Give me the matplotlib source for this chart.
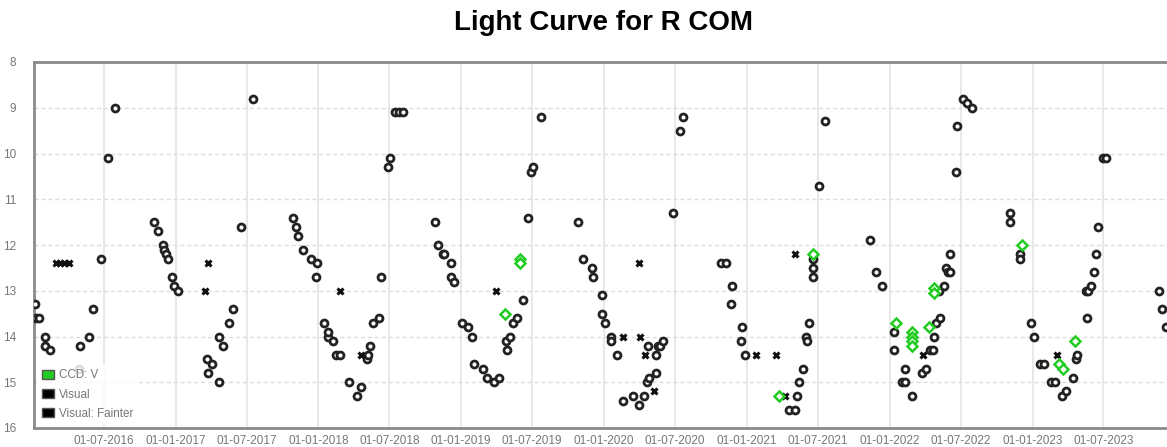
import matplotlib
matplotlib.use("Agg")
import matplotlib.pyplot as plt
import matplotlib.dates as mdates
from matplotlib.patches import Patch
import pandas as pd

vis_t = [2016.015, 2016.024, 2016.047, 2016.085, 2016.085, 2016.122, 2016.325, 2016.332,
         2016.397, 2016.421, 2016.477, 2016.526, 2016.577, 2016.848, 2016.876, 2016.908,
         2016.920, 2016.934, 2016.943, 2016.974, 2016.990, 2017.013, 2017.219, 2017.223,
         2017.254, 2017.305, 2017.305, 2017.331, 2017.375, 2017.401, 2017.459, 2017.538,
         2017.821, 2017.844, 2017.860, 2017.895, 2017.947, 2017.984, 2017.993, 2018.042,
         2018.066, 2018.070, 2018.101, 2018.124, 2018.152, 2018.217, 2018.269, 2018.299,
         2018.339, 2018.350, 2018.362, 2018.381, 2018.423, 2018.439, 2018.488, 2018.502,
         2018.537, 2018.565, 2018.593, 2018.819, 2018.838, 2018.871, 2018.882, 2018.927,
         2018.927, 2018.952, 2019.008, 2019.046, 2019.074, 2019.092, 2019.155, 2019.179,
         2019.232, 2019.265, 2019.314, 2019.319, 2019.342, 2019.365, 2019.393, 2019.431,
         2019.470, 2019.489, 2019.505, 2019.557, 2019.820, 2019.855, 2019.914, 2019.925,
         2019.984, 2019.984, 2020.007, 2020.049, 2020.049, 2020.089, 2020.135, 2020.205,
         2020.247, 2020.282, 2020.303, 2020.310, 2020.317, 2020.364, 2020.364, 2020.380,
         2020.392, 2020.415, 2020.481, 2020.532, 2020.555, 2020.819, 2020.854, 2020.889,
         2020.894, 2020.957, 2020.964, 2020.987, 2021.290, 2021.337, 2021.349, 2021.360,
         2021.388, 2021.412, 2021.419, 2021.430, 2021.458, 2021.458, 2021.458, 2021.500,
         2021.547, 2021.860, 2021.904, 2021.946, 2022.030, 2022.030, 2022.084, 2022.107,
         2022.107, 2022.154, 2022.228, 2022.254, 2022.282, 2022.305, 2022.312, 2022.322,
         2022.347, 2022.352, 2022.382, 2022.392, 2022.406, 2022.422, 2022.422, 2022.462,
         2022.473, 2022.511, 2022.543, 2022.576, 2022.842, 2022.842, 2022.912, 2022.912,
         2022.987, 2023.012, 2023.052, 2023.080, 2023.127, 2023.157, 2023.208, 2023.234,
         2023.285, 2023.304, 2023.309, 2023.374, 2023.379, 2023.390, 2023.407, 2023.430,
         2023.444, 2023.456, 2023.495, 2023.514, 2023.885, 2023.908, 2023.932]
vis_mag = [13.3, 13.6, 13.6, 14.0, 14.2, 14.3, 14.7, 14.2,
           14.0, 13.4, 12.3, 10.1, 9.0, 11.5, 11.7, 12.0,
           12.1, 12.2, 12.3, 12.7, 12.9, 13.0, 14.5, 14.8,
           14.6, 14.0, 15.0, 14.2, 13.7, 13.4, 11.6, 8.8,
           11.4, 11.6, 11.8, 12.1, 12.3, 12.7, 12.4, 13.7,
           14.0, 13.9, 14.1, 14.4, 14.4, 15.0, 15.3, 15.1,
           14.5, 14.4, 14.2, 13.7, 13.6, 12.7, 10.3, 10.1,
           9.1, 9.1, 9.1, 11.5, 12.0, 12.2, 12.2, 12.4,
           12.7, 12.8, 13.7, 13.8, 14.0, 14.6, 14.7, 14.9,
           15.0, 14.9, 14.1, 14.3, 14.0, 13.7, 13.6, 13.2,
           11.4, 10.4, 10.3, 9.2, 11.5, 12.3, 12.5, 12.7,
           13.1, 13.5, 13.7, 14.0, 14.1, 14.4, 15.4, 15.3,
           15.5, 15.3, 15.0, 14.2, 14.9, 14.4, 14.8, 14.2,
           14.2, 14.1, 11.3, 9.5, 9.2, 12.4, 12.4, 13.3,
           12.9, 14.1, 13.8, 14.4, 15.6, 15.6, 15.3, 15.0,
           14.7, 14.0, 14.1, 13.7, 12.3, 12.5, 12.7, 10.7,
           9.3, 11.9, 12.6, 12.9, 13.9, 14.3, 15.0, 15.0,
           14.7, 15.3, 14.8, 14.7, 14.3, 14.3, 14.0, 13.7,
           13.0, 13.6, 12.9, 12.5, 12.6, 12.6, 12.2, 10.4,
           9.4, 8.8, 8.9, 9.0, 11.3, 11.5, 12.2, 12.3,
           13.7, 14.0, 14.6, 14.6, 15.0, 15.0, 15.3, 15.2,
           14.9, 14.5, 14.4, 13.0, 13.6, 13.0, 12.9, 12.6,
           12.2, 11.6, 10.1, 10.1, 13.0, 13.4, 13.8]

fainter_t = [2016.164, 2016.192, 2016.220, 2016.252, 2017.202, 2017.223, 2018.152, 2018.299,
             2019.244, 2020.135, 2020.245, 2020.252, 2020.287, 2020.350, 2021.064, 2021.204,
             2021.262, 2021.332, 2022.235, 2023.169]
fainter_mag = [12.4, 12.4, 12.4, 12.4, 13.0, 12.4, 13.0, 14.4,
               13.0, 14.0, 12.4, 14.0, 14.4, 15.2, 14.4, 14.4,
               15.3, 12.2, 14.4, 14.4]

ccd_t = [2019.307, 2019.412, 2019.412, 2021.220, 2021.458, 2022.044, 2022.154, 2022.154,
         2022.154, 2022.154, 2022.273, 2022.308, 2022.312, 2022.928, 2023.187, 2023.211,
         2023.297]
ccd_mag = [13.5, 12.3, 12.4, 15.3, 12.2, 13.7, 13.9, 14.0,
           14.1, 14.2, 13.8, 12.95, 13.05, 12.0, 14.6, 14.7,
           14.1]

tick_dates = ["2016-07-01", "2017-01-01", "2017-07-01", "2018-01-01", "2018-07-01",
              "2019-01-01", "2019-07-01", "2020-01-01", "2020-07-01", "2021-01-01",
              "2021-07-01", "2022-01-01", "2022-07-01", "2023-01-01", "2023-07-01"]
mag_ticks = [8, 9, 10, 11, 12, 13, 14, 15, 16]


def to_date(t):
    y = int(t)
    start = pd.Timestamp(y, 1, 1)
    end = pd.Timestamp(y + 1, 1, 1)
    return start + (t - y) * (end - start)


plt.rcParams['font.family'] = ['Liberation Sans', 'DejaVu Sans']

fig = plt.figure(figsize=(11.67, 4.47), dpi=100)
ax = fig.add_axes([34 / 1167, 19 / 447, 1134 / 1167, 366 / 447])

green = '#22cc22'
ax.plot([to_date(t) for t in vis_t], vis_mag, 'o', ms=5, mew=2,
        mfc='white', mec='#222222', zorder=3)
ax.plot([to_date(t) for t in fainter_t], fainter_mag, 'x', ms=4.5, mew=2.2,
        color='#111111', zorder=3)
ax.plot([to_date(t) for t in ccd_t], ccd_mag, 'D', ms=4.8, mew=1.8,
        mfc='white', mec=green, zorder=4)

ax.set_ylim(16, 8)
ax.set_yticks(mag_ticks)
ax.set_xlim(to_date(2016.010), to_date(2023.948))
ax.set_xticks([pd.Timestamp(d) for d in tick_dates])
ax.xaxis.set_major_formatter(mdates.DateFormatter('%d-%m-%Y'))

ax.yaxis.grid(True, ls=(0, (3, 2)), color='#dddddd', lw=1)
ax.xaxis.grid(True, color='#e6e6e6', lw=1.3)
ax.set_axisbelow(True)

ax.tick_params(length=0, labelsize=8.5, labelcolor='#777777')
ax.tick_params(axis='y', pad=13)
ax.tick_params(axis='x', pad=5)

for s in ['left', 'top', 'bottom']:
    ax.spines[s].set_color('#8a8a8a')
    ax.spines[s].set_linewidth(2)
ax.spines['right'].set_visible(False)

handles = [Patch(facecolor=green, edgecolor='#555555'),
           Patch(facecolor='black', edgecolor='#555555'),
           Patch(facecolor='black', edgecolor='#555555')]
leg = ax.legend(handles, ['CCD: V', 'Visual', 'Visual: Fainter'], loc='lower left',
                bbox_to_anchor=(0.0, 0.0), fontsize=8.4, labelcolor='#777777',
                frameon=True, facecolor='white', edgecolor='none', framealpha=0.85,
                handlelength=1.0, handleheight=0.75, labelspacing=0.62,
                handletextpad=0.45, borderpad=0.45, borderaxespad=0.25)

fig.text(0.517, 1 - 23 / 447, 'Light Curve for R COM', ha='center', va='center',
         fontsize=20, fontweight='bold')

fig.savefig('out.png', dpi=100)
